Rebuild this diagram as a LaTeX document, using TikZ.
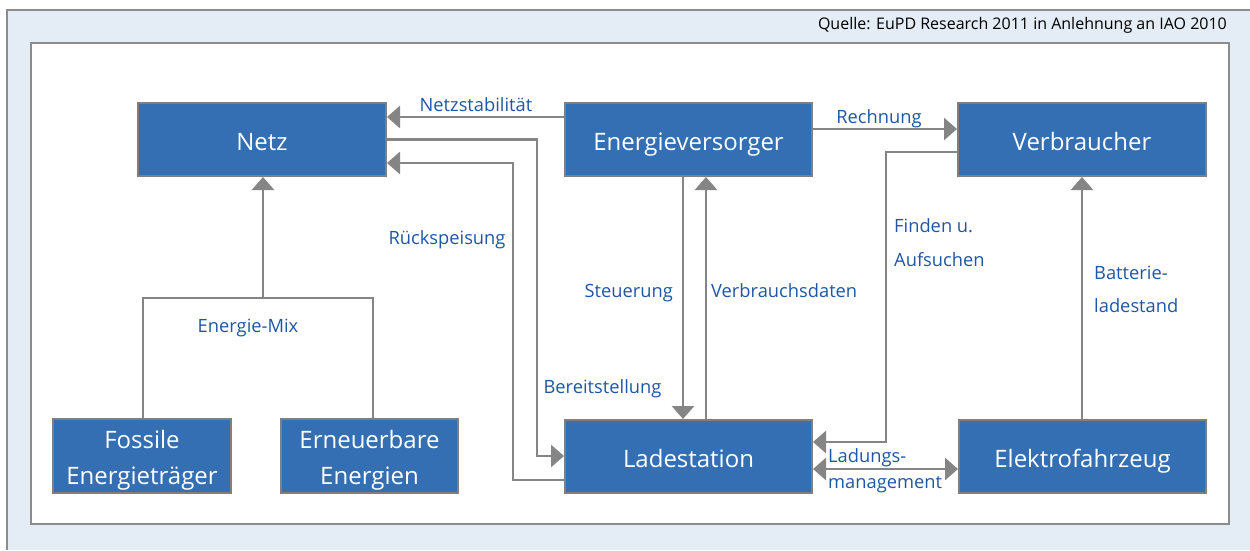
\documentclass[tikz,border=0pt]{standalone}
\usepackage{fontspec}
\setmainfont{Open Sans}
\usetikzlibrary{arrows.meta}

\definecolor{panelbg}{HTML}{E4ECF5}
\definecolor{framegray}{HTML}{8C8C8C}
\definecolor{boxfill}{HTML}{336FB2}
\definecolor{boxline}{HTML}{7F7F7F}
\definecolor{linkgray}{HTML}{858585}
\definecolor{labelblue}{HTML}{1F57A5}

\tikzset{
  box/.style={draw=boxline, line width=2pt, fill=boxfill, text=white,
    minimum height=73pt, inner sep=0pt, align=center,
    text height=21pt, text depth=0pt,
    font=\fontsize{24}{36}\selectfont},
  twoline/.style={minimum height=74pt, text height=56pt, text depth=0pt},
  link/.style={draw=linkgray, line width=2.9pt},
  arr/.style={link, -{Triangle[length=13pt,width=22pt]}},
  darr/.style={link, {Triangle[length=13pt,width=22pt]}-{Triangle[length=13pt,width=22pt]}},
  lbl/.style={text=labelblue, inner sep=0pt, font=\fontsize{18.3}{34}\selectfont},
}

\begin{document}
\begin{tikzpicture}[x=1pt, y=-1pt]
\useasboundingbox (0,0) rectangle (1250,550);

% outer panel and inner frame
\fill[panelbg] (7,10) rectangle (1250,550);
\draw[framegray, line width=1.5pt] (7,550) -- (7,10) -- (1250,10);
\draw[framegray, line width=1.5pt, fill=white] (31,43) rectangle (1229,524);

\node[anchor=base east, inner sep=0pt, font=\fontsize{16}{18}\selectfont] (src) at (1227,29)
  {Quelle: EuPD Research 2011 in Anlehnung an IAO 2010};

% boxes
\node[box, minimum width=248pt] (netz) at (262,139.5) {Netz};
\node[box, minimum width=247pt] (ev) at (688.5,139.5) {Energieversorger};
\node[box, minimum width=248pt] (vb) at (1082,139.5) {Verbraucher};
\node[box, minimum width=247pt] (ls) at (688.5,456.5) {Ladestation};
\node[box, minimum width=247pt] (ef) at (1082.5,456.5) {Elektrofahrzeug};
\node[box, twoline, minimum width=178pt] (fos) at (142,456) {Fossile\\Energieträger};
\node[box, twoline, minimum width=177pt] (ern) at (369.5,456) {Erneuerbare\\Energien};

% connectors
\draw[arr] (ev.west |- 0,117) -- (netz.east |- 0,117);
\draw[arr] (netz.east) -- (537,139.5) -- (537,456) -- (ls.west |- 0,456);
\draw[arr] (ls.west |- 0,480) -- (513,480) -- (513,163) -- (netz.east |- 0,163);
\draw[arr] (ev.south -| 683,0) -- (ls.north -| 683,0);
\draw[arr] (ls.north -| 706,0) -- (ev.south -| 706,0);
\draw[arr] (ev.east |- 0,129) -- (vb.west |- 0,129);
\draw[arr] (vb.west |- 0,152) -- (886,152) -- (886,442) -- (ls.east |- 0,442);
\draw[darr] (ls.east |- 0,469) -- (ef.west |- 0,469);
\draw[arr] (ef.north -| 1082,0) -- (vb.south -| 1082,0);
\draw[link] (fos.north -| 143,0) -- (143,298) -- (373,298) -- (ern.north -| 373,0);
\coordinate (mix) at (263,298);
\draw[arr] (mix) -- (netz.south -| mix);

% connector labels
\node[lbl, anchor=base] at (476,111) {Netzstabilität};
\node[lbl, anchor=base] at (447,244) {Rückspeisung};
\node[lbl, anchor=base] at (879,123) {Rechnung};
\node[lbl, anchor=base east] at (673,297) {Steuerung};
\node[lbl, anchor=base west] at (711,297) {Verbrauchsdaten};
\node[lbl, anchor=base] at (602.5,393) {Bereitstellung};
\node[lbl, anchor=base west] at (894,232) {Finden u.};
\node[lbl, anchor=base west] at (894,266) {Aufsuchen};
\node[lbl, anchor=base west] at (1094,279) {Batterie-};
\node[lbl, anchor=base west] at (1094,312) {ladestand};
\node[lbl, anchor=base west] at (828,462) {Ladungs-};
\node[lbl, anchor=base west] at (828,488) {management};
\node[lbl, anchor=base] at (248,332) {Energie-Mix};
\end{tikzpicture}
\end{document}
